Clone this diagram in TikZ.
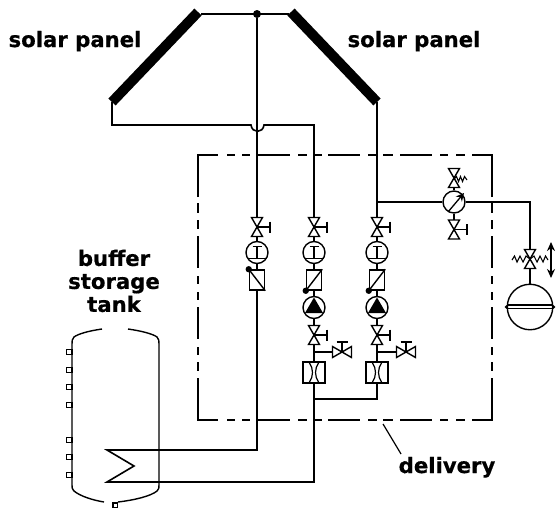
\documentclass[tikz,border=0pt]{standalone}
\usepackage{fontspec}
\setmainfont{DejaVu Sans}[BoldFeatures={FakeBold=0.6}]
\usetikzlibrary{arrows.meta}
\tikzset{
  pipe/.style={line width=1.6pt},
  thin pipe/.style={line width=1.3pt},
  label text/.style={font=\bfseries\fontsize{21.2}{23}\selectfont,align=center,inner sep=0pt},
  gaugec/.style={circle,draw,line width=1.4pt,fill=white,minimum size=22pt,inner sep=0pt},
  boxn/.style={rectangle,draw,line width=1.5pt,fill=white,minimum width=15pt,minimum height=20pt,inner sep=0pt},
  flown/.style={rectangle,draw,line width=1.5pt,fill=white,minimum width=22pt,minimum height=21pt,inner sep=0pt},
  vport/.style={rectangle,minimum width=11pt,minimum height=19pt,inner sep=0pt},
  hport/.style={rectangle,minimum width=19pt,minimum height=11pt,inner sep=0pt},
  valveV/.pic={\draw[line width=1.4pt,line join=miter] (-5.5,-9.5) -- (5.5,-9.5) -- (-5.5,9.5) -- (5.5,9.5) -- cycle;},
  valveH/.pic={\draw[line width=1.4pt,line join=miter] (-9.5,-5.5) -- (-9.5,5.5) -- (9.5,-5.5) -- (9.5,5.5) -- cycle;},
  handleR/.pic={\draw[line width=1.4pt] (0,0) -- (13,0) (13,-5.5) -- (13,5.5);},
  handleU/.pic={\draw[line width=1.4pt] (0,0) -- (0,-10) (-5.5,-10) -- (5.5,-10);},
  gaugeI/.pic={\draw[line width=1.4pt] (-4.5,-6) -- (4.5,-6) (0,-6) -- (0,6) (-9.5,6) -- (9.5,6);},
  pumpT/.pic={\fill (0,-10) -- (9,5.5) -- (-9,5.5) -- cycle;},
  venturi/.pic={\draw[line width=1.2pt] (-4.8,-10) .. controls (-0.4,-4) and (-0.4,4) .. (-4.8,10)
                 (4.8,-10) .. controls (0.4,-4) and (0.4,4) .. (4.8,10);},
}
\begin{document}
\begin{tikzpicture}[x=1pt,y=-1pt]
\useasboundingbox (0,0) rectangle (556,509);

% delivery boundary
\draw[line width=1.5pt]
  (198,197) -- (198,155) -- (218,155)
  (198,203) -- (198,213) (198,220) -- (198,229) (198,236) -- (198,268)
  (198,276) -- (198,284) (198,292) -- (198,300) (198,307) -- (198,339)
  (198,347) -- (198,355) (198,362) -- (198,371)
  (198,378) -- (198,420) -- (218,420)
  (492,197) -- (492,155) -- (472,155)
  (492,203) -- (492,213) (492,220) -- (492,229) (492,236) -- (492,268)
  (492,276) -- (492,284) (492,292) -- (492,300) (492,307) -- (492,339)
  (492,347) -- (492,355) (492,362) -- (492,371)
  (492,378) -- (492,420) -- (472,420);
\foreach \yy in {155,420}{
  \foreach \a/\b in {227/235,242/250,257/290,298/307,313/322,328/360,368/377,383/393,400/432,440/448,456/465}{
    \draw[line width=1.5pt] (\a,\yy) -- (\b,\yy);
  }
}

% solar panels
\coordinate (pl1) at (198,12);
\coordinate (pl2) at (112,102);
\coordinate (pr1) at (291,12);
\coordinate (pr2) at (377,102);
\draw[line width=10pt] (pl1) -- (pl2);
\draw[line width=10pt] (pr1) -- (pr2);
\node[circle,fill,minimum size=8pt,inner sep=0pt] (junc) at (257,14) {};
\coordinate (tl) at (201,14);
\coordinate (tr) at (289,14);
\draw[thin pipe] (tl) -- (tr);

% column nodes
\foreach \n/\x in {1/257,2/314,3/377}{
  \node[vport] (v\n) at (\x,227) {};
  \node[gaugec] (g\n) at (\x,252.5) {};
  \node[boxn] (c\n) at (\x,280) {};
}
\foreach \n/\x in {2/314,3/377}{
  \node[gaugec] (p\n) at (\x,307.5) {};
  \node[vport] (w\n) at (\x,335) {};
  \node[flown] (f\n) at (\x,372.5) {};
  \coordinate (b\n) at (\x,352);
}
\node[hport] (s2) at (342,352) {};
\node[hport] (s3) at (406,352) {};

% pipes
\coordinate (t2) at (314,125);
\coordinate (t1) at (112,125);
\coordinate (hopa) at (251,125);
\coordinate (hopb) at (264,125);
\coordinate (bl) at (112,102);
\coordinate (br) at (377,102);
\coordinate (m2) at (314,399);
\coordinate (m3) at (377,399);
\coordinate (hx1) at (107,450);
\coordinate (hx2) at (134,466);
\coordinate (hx3) at (107,482);
\coordinate (e1) at (257,450);
\coordinate (e2) at (314,482);
\draw[pipe] (bl) -- (t1) -- (hopa) .. controls (252,133.5) and (263,133.5) .. (hopb) -- (t2) -- (v2.north);
\draw[pipe] (junc) -- (v1.north);
\draw[pipe] (br) -- (v3.north);
\foreach \n in {1,2,3}{
  \draw[pipe] (v\n.south) -- (g\n.north);
  \draw[pipe] (g\n.south) -- (c\n.north);
}
\foreach \n in {2,3}{
  \draw[pipe] (c\n.south) -- (p\n.north);
  \draw[pipe] (p\n.south) -- (w\n.north);
  \draw[pipe] (w\n.south) -- (f\n.north);
  \draw[pipe] (b\n) -- (s\n.west);
}
\draw[pipe] (c1.south) -- (e1) -- (hx1) -- (hx2) -- (hx3) -- (e2) -- (m2) -- (f2.south);
\draw[pipe] (f3.south) -- (m3) -- (m2);

% symbols
\foreach \n/\x in {1/257,2/314,3/377}{
  \pic at (v\n) {valveV};
  \pic at (v\n) {handleR};
  \pic at (g\n) {gaugeI};
}
\foreach \n in {2,3}{
  \pic at (p\n) {pumpT};
  \pic at (w\n) {valveV};
  \pic at (w\n) {handleR};
  \pic at (f\n) {venturi};
  \pic at (s\n) {valveH};
  \pic at (s\n) {handleU};
}
% check valves
\draw[line width=1.4pt] (c1.north west) -- (c1.south east);
\fill (c1.north west) circle (3.2);
\draw[line width=1.4pt] (c2.north east) -- (c2.south west);
\fill (c2.south west) circle (3.2);
\draw[line width=1.4pt] (c3.north east) -- (c3.south west);
\fill (c3.south west) circle (3.2);

% pressure gauge branch
\node[gaugec] (pg) at (454,202) {};
\node[vport] (pu) at (454,178) {};
\node[vport] (pd) at (454,229.5) {};
\coordinate (t3) at (377,202);
\coordinate (k) at (530,202);
\node[vport] (xv) at (530,259) {};
\node[circle,draw,line width=1.4pt,minimum size=45.5pt,inner sep=0pt] (vessel) at (530,307) {};
\draw[pipe] (t3) -- (pg.west);
\draw[pipe] (pg.east) -- (k) -- (xv.north);
\draw[pipe] (xv.south) -- (vessel.north);
\draw[pipe] (pg.north) -- (pu.south);
\draw[pipe] (pg.south) -- (pd.north);
\coordinate (ga) at (448,212);
\coordinate (gb) at (464,193);
\draw[line width=1.3pt,-{Stealth[length=8pt,width=8pt]}] (ga) -- (gb);
\pic at (pu) {valveV};
\pic at (pd) {valveV};
\pic at (pd) {handleR};
\draw[line width=1.1pt] (454,179) -- (456.5,176.5) -- (458.5,181.5) -- (460.5,176.5) -- (462.5,181.5) -- (464.5,176.5) -- (467,180);
\pic at (xv) {valveV};
\draw[line width=1.1pt] (530,259) -- (526,256) -- (523,262) -- (520,256) -- (517,262) -- (514.5,256) -- (512,260);
\draw[line width=1.1pt] (530,259) -- (534,256) -- (537,262) -- (540,256) -- (543,262) -- (545.5,256) -- (548,260);
\coordinate (ua) at (551,242);
\coordinate (ub) at (551,278);
\draw[line width=1.5pt,{Stealth[length=9pt,width=8pt]}-{Stealth[length=9pt,width=8pt]}] (ua) -- (ub);
\draw[line width=1.7pt] (507,305.3) -- (553,305.3);
\draw[line width=1.1pt] (507,308.7) -- (553,308.7);
\fill (506.5,307) circle (1.8) (553.5,307) circle (1.8);

% tank
\draw[line width=1.4pt] (102,329) .. controls (88,331) and (78,334) .. (74,337) .. controls (72,339) and (72,341) .. (72,344)
  -- (72,485) .. controls (72,488) and (72,489) .. (74,491) .. controls (80,496) and (92,500) .. (104,502);
\draw[line width=1.4pt] (128,329) .. controls (142,331) and (153,334) .. (157,337) .. controls (159,339) and (159,341) .. (159,344)
  -- (159,485) .. controls (159,488) and (159,489) .. (157,491) .. controls (151,496) and (135,500) .. (118,502);
\foreach \yy in {352,370,387,405,440,457,475}{
  \draw[line width=1.3pt] (66.5,\yy-2.2) rectangle (72,\yy+2.2);
}
\draw[line width=1.3pt] (113,503) rectangle (117.5,507.5);

% labels
\node[label text,anchor=base] (ll) at (75,47) {solar panel};
\node[label text,anchor=base] (lr) at (414,47) {solar panel};
\node[label text] (lb) at (114,281) {buffer\\storage\\tank};
\node[label text,anchor=base] (ld) at (447,473) {delivery};
\coordinate (da) at (383,424);
\coordinate (db) at (401,454);
\draw[line width=1.2pt] (da) -- (db);
\end{tikzpicture}
\end{document}
